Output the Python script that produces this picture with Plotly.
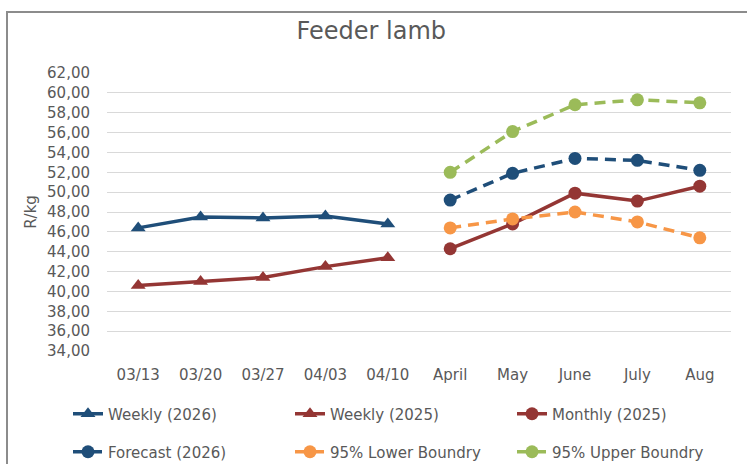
import plotly.graph_objects as go

categories = ["03/13", "03/20", "03/27", "04/03", "04/10", "April", "May", "June", "July", "Aug"]
weekly_cats = categories[:5]
monthly_cats = categories[5:]

weekly_2026 = [46.4, 47.5, 47.4, 47.6, 46.8]
weekly_2025 = [40.6, 41.0, 41.4, 42.5, 43.4]
monthly_2025 = [44.3, 46.8, 49.9, 49.1, 50.6]
forecast_2026 = [49.2, 51.9, 53.4, 53.2, 52.2]
lower_95 = [46.4, 47.3, 48.0, 47.0, 45.4]
upper_95 = [52.0, 56.1, 58.8, 59.3, 59.0]

y_ticks = list(range(34, 63, 2))
y_tick_labels = [f"{v},00" for v in y_ticks]

BLUE = "#1F4E79"
RED = "#943634"
ORANGE = "#F79646"
GREEN = "#9BBB59"
TXT = "#595959"
FONT = "DejaVu Sans"
DASH = "11px,7px"

W, H = 747, 464
L, R, T, B = 107, 16, 73, 113
PW, PH = W - L - R, H - T - B

fig = go.Figure()
fig.add_trace(go.Scatter(x=weekly_cats, y=weekly_2026, name="Weekly (2026)", mode="lines+markers",
                         line=dict(color=BLUE, width=3.5), marker=dict(symbol="triangle-up", size=13, color=BLUE),
                         legend="legend"))
fig.add_trace(go.Scatter(x=weekly_cats, y=weekly_2025, name="Weekly (2025)", mode="lines+markers",
                         line=dict(color=RED, width=3.5), marker=dict(symbol="triangle-up", size=13, color=RED),
                         legend="legend"))
fig.add_trace(go.Scatter(x=monthly_cats, y=monthly_2025, name="Monthly (2025)", mode="lines+markers",
                         line=dict(color=RED, width=3.5), marker=dict(symbol="circle", size=13, color=RED),
                         legend="legend"))
fig.add_trace(go.Scatter(x=monthly_cats, y=forecast_2026, name="Forecast (2026)", mode="lines+markers",
                         line=dict(color=BLUE, width=3.5, dash=DASH), marker=dict(symbol="circle", size=13, color=BLUE),
                         legend="legend2"))
fig.add_trace(go.Scatter(x=monthly_cats, y=lower_95, name="95% Lower Boundry", mode="lines+markers",
                         line=dict(color=ORANGE, width=3.5, dash=DASH), marker=dict(symbol="circle", size=13, color=ORANGE),
                         legend="legend2"))
fig.add_trace(go.Scatter(x=monthly_cats, y=upper_95, name="95% Upper Boundry", mode="lines+markers",
                         line=dict(color=GREEN, width=3.5, dash=DASH), marker=dict(symbol="circle", size=13, color=GREEN),
                         legend="legend2"))

legend_common = dict(orientation="h", xanchor="left", yanchor="middle", entrywidth=177, entrywidthmode="pixels",
                     font=dict(family=FONT, size=15, color=TXT), bgcolor="rgba(0,0,0,0)", itemclick=False)

fig.update_layout(
    width=W, height=H,
    margin=dict(l=L, r=R, t=T, b=B, autoexpand=False),
    paper_bgcolor="white", plot_bgcolor="white",
    title=dict(text="Feeder lamb", x=0.497, xref="container", xanchor="center", y=1 - 31 / H, yanchor="middle",
               yref="container", font=dict(family=FONT, size=24, color=TXT)),
    font=dict(family=FONT, color=TXT),
    xaxis=dict(type="category", categoryorder="array", categoryarray=categories, range=[-0.5, 9.5],
               showgrid=False, showline=False, zeroline=False, ticks="", automargin=False,
               ticklabelstandoff=13,
               tickfont=dict(family=FONT, size=15, color=TXT)),
    yaxis=dict(range=[34, 62], tickvals=y_ticks, ticktext=y_tick_labels, showgrid=True, gridcolor="#D9D9D9",
               gridwidth=1, zeroline=False, showline=False, ticks="", automargin=False,
               ticklabelstandoff=16,
               tickfont=dict(family=FONT, size=15, color=TXT),
               title=dict(text="R/kg", font=dict(family=FONT, size=15, color=TXT), standoff=6)),
    legend=dict(x=(68 - L) / PW, y=(H - B - 414) / PH, **legend_common),
    legend2=dict(x=(68 - L) / PW, y=(H - B - 452) / PH, **legend_common),
    shapes=[dict(type="rect", xref="paper", yref="paper", x0=(7 - L) / PW, x1=1.1, y0=-0.6,
                 y1=1 + (T - 12) / PH, line=dict(color="#8C8C8C", width=2), fillcolor="rgba(0,0,0,0)",
                 layer="below")],
)

fig.write_html("out.html", config={"displayModeBar": False},
               post_script="document.body.style.margin='0';document.body.style.overflow='hidden';")
